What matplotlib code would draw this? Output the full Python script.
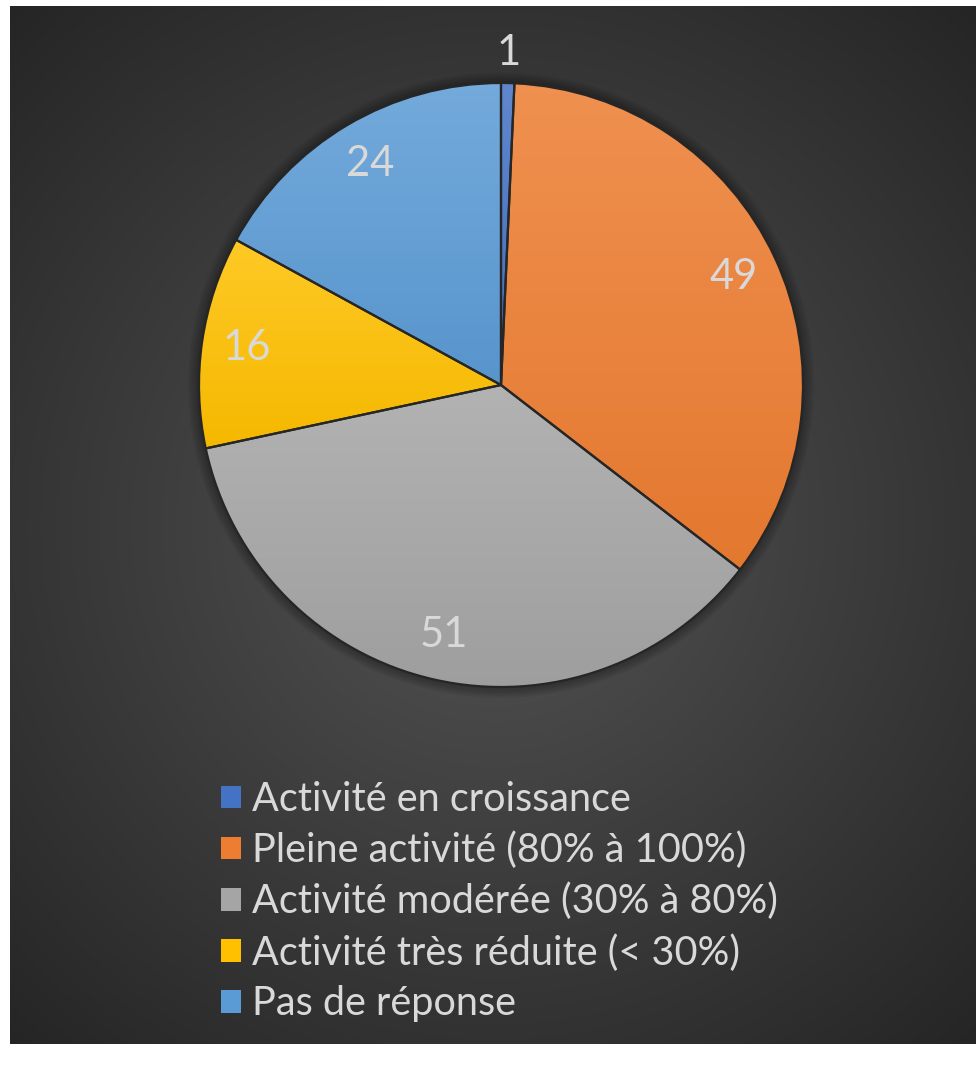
import numpy as np
import matplotlib.pyplot as plt
from matplotlib.patches import Circle, Patch
from matplotlib.colors import to_rgb

# data
categories = ['Activité en croissance', 'Pleine activité (80% à 100%)',
              'Activité modérée (30% à 80%)', 'Activité très réduite (< 30%)',
              'Pas de réponse']
values = [1, 49, 51, 16, 24]
colors = ['#4472C4', '#ED7D31', '#A5A5A5', '#FFC000', '#5B9BD5']

W, H = 976, 1070
TEXT = '#D9D9D9'
plt.rcParams['font.family'] = ['Lato', 'DejaVu Sans']

fig = plt.figure(figsize=(W / 100, H / 100), dpi=100)
fig.patch.set_facecolor('white')

# dark background with a soft radial glow
bg = fig.add_axes([10 / W, (H - 1044) / H, (W - 10) / W, (1044 - 6) / H])
bg.set_axis_off()
yy, xx = np.mgrid[0:1:400j, 0:1:400j]
d = np.sqrt(((xx - 0.5) * 1.0) ** 2 + ((yy - 0.5) * 1.07) ** 2)
d = np.clip(d / 0.75, 0, 1)
c_in, c_out = np.array(to_rgb('#545454')), np.array(to_rgb('#242424'))
img = c_in[None, None, :] * (1 - d[..., None]) + c_out[None, None, :] * d[..., None]
bg.imshow(img, extent=(0, 1, 0, 1), aspect='auto', origin='lower')

# pie axes: centre (501, 385), radius 302 px
R = 302
half = 360
ax = fig.add_axes([(501 - half) / W, (H - 385 - half) / H, 2 * half / W, 2 * half / H])
ax.set_axis_off()
lim = half / R

# faint shadow around the pie
for k in range(6):
    ax.add_patch(Circle((0, 0), 1.0 + 0.006 * (k + 1), facecolor='black',
                        alpha=0.05, edgecolor='none', zorder=0))

wedges, _ = ax.pie(values, colors=colors, startangle=90, counterclock=False,
                   radius=1.0, wedgeprops=dict(edgecolor='#262626', linewidth=1.6))

total = sum(values)
for w, col, v in zip(wedges, colors, values):
    # vertical gradient inside each slice, lighter at the top
    base = np.array(to_rgb(col))
    top = base + (1 - base) * 0.15
    bot = base * 0.96
    t = np.linspace(0, 1, 256)[:, None]
    grad = (bot[None, :] * (1 - t) + top[None, :] * t)[:, None, :]
    ext = w.get_path().get_extents()
    im = ax.imshow(grad, extent=(ext.x0, ext.x1, ext.y0, ext.y1),
                   origin='lower', aspect='auto', zorder=1)
    im.set_clip_path(w)
    w.set_facecolor('none')
    w.set_zorder(2)

    ang = np.deg2rad((w.theta1 + w.theta2) / 2)
    dist = 1.10 if v / total < 0.02 else 0.85
    ax.text(dist * np.cos(ang), dist * np.sin(ang), str(v), ha='center',
            va='center', fontsize=30, color=TEXT, zorder=3)
ax.set_xlim(-lim, lim)
ax.set_ylim(-lim, lim)

handles = [Patch(facecolor=c, edgecolor='none') for c in colors]
fig.legend(handles, categories, loc='upper left',
           bbox_to_anchor=(205 / W, 1 - 765 / H), frameon=False,
           fontsize=28.5, labelcolor=TEXT, handlelength=0.5, handleheight=0.5,
           handletextpad=0.28, labelspacing=0.345, borderaxespad=0, borderpad=0.4)

fig.savefig('out.png', dpi=100, facecolor=fig.get_facecolor())
